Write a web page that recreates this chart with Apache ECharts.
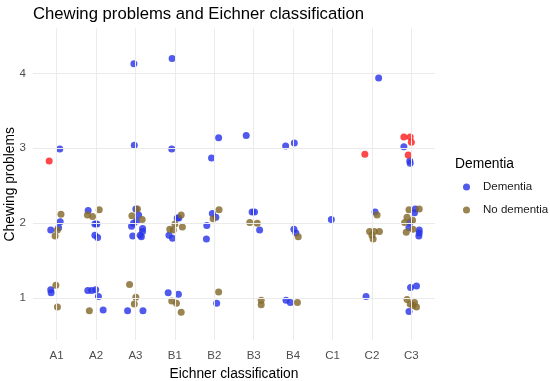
<!DOCTYPE html>
<html><head><meta charset="utf-8">
<script src="https://cdn.jsdelivr.net/npm/echarts@6/dist/echarts.min.js"></script>
<style>html,body{margin:0;padding:0;background:#fff}#c{width:550px;height:381px}</style>
</head><body><div id="c"></div>
<script>
const categories = ['A1','A2','A3','B1','B2','B3','B4','C1','C2','C3'];
const yTicks = [1,2,3,4];

// Dementia (blue): category, jitter offset, chewing problems value
const demCat = ['A1','A1','A1','A1','A1','A1',
  'A2','A2','A2','A2','A2','A2','A2','A2','A2','A2',
  'A3','A3','A3','A3','A3','A3','A3','A3','A3','A3','A3','A3','A3','A3',
  'B1','B1','B1','B1','B1','B1','B1','B1',
  'B2','B2','B2','B2','B2','B2','B2',
  'B3','B3','B3','B3',
  'B4','B4','B4','B4','B4','B4',
  'C1',
  'C2','C2','C2',
  'C3','C3','C3','C3','C3','C3','C3','C3','C3','C3','C3','C3','C3'];
const demDx = [0.08,0.09,-0.15,0.05,-0.15,-0.14,
  -0.2,-0.03,0.02,-0.03,0.04,-0.21,-0.11,-0.01,0.06,0.18,
  -0.04,-0.03,0.01,0.08,0.03,-0.05,-0.10,0.18,0.18,-0.07,0.12,0.15,-0.2,0.19,
  -0.07,-0.08,0.06,0.1,-0.15,-0.06,-0.17,0.09,
  0.11,-0.07,-0.05,0.04,-0.19,-0.2,0.06,
  -0.19,-0.04,0.02,0.15,
  -0.19,0.03,0.02,0.07,-0.18,-0.07,
  -0.03,
  0.17,0.08,-0.15,
  -0.19,-0.04,-0.03,0.1,0.08,-0.04,-0.06,0.2,0.2,0.19,-0.02,0.13,-0.06];
const demY = [2.99,2.02,1.91,1.94,1.11,1.07,
  2.17,1.99,1.99,1.84,1.81,1.10,1.10,1.11,1.02,0.84,
  4.13,3.04,2.19,2.11,2.03,2.0,1.96,1.93,1.89,1.83,1.84,1.82,0.83,0.83,
  4.2,2.99,2.07,2.07,1.84,1.80,1.07,1.05,
  3.14,2.87,2.13,2.08,1.97,1.79,0.93,
  3.17,2.15,2.15,1.91,
  3.03,3.07,1.92,1.87,0.97,0.94,
  2.05,
  3.94,2.15,1.02,
  3.02,2.83,2.8,2.19,2.14,2.01,1.94,1.91,1.87,1.83,1.14,1.16,0.82];

// No dementia (brown)
const noCat = ['A1','A1','A1','A1','A1',
  'A2','A2','A2','A2',
  'A3','A3','A3','A3','A3','A3',
  'B1','B1','B1','B1','B1','B1','B1','B1',
  'B2','B2','B2',
  'B3','B3','B3','B3',
  'B4','B4',
  'C2','C2','C2','C2','C2','C2',
  'C3','C3','C3','C3','C3','C3','C3','C3','C3','C3','C3','C3'];
const noDx = [0.11,0.02,-0.04,-0.02,0.02,
  0.08,-0.22,-0.09,-0.17,
  0.05,-0.09,0.17,-0.15,0.01,-0.03,
  0.16,0,0.19,-0.13,-0.04,-0.08,0.04,0.16,
  0.12,-0.03,0.11,
  -0.1,0.09,0.19,0.19,
  0.13,0.11,
  0.13,-0.06,0.06,0.19,0,0.03,
  -0.06,0.2,-0.11,0.03,-0.17,0.04,-0.13,-0.11,0.08,0.04,0.13,-0.03];
const noY = [2.12,1.91,1.83,1.17,0.88,
  2.18,2.11,2.09,0.83,
  2.19,2.1,2.05,1.18,1.01,0.92,
  2.11,1.99,1.95,1.92,1.91,0.96,0.93,0.81,
  2.18,2.06,1.08,
  2.01,2.0,0.97,0.91,
  1.82,0.94,
  2.11,1.89,1.89,1.89,1.84,1.79,
  2.18,2.19,2.08,2.04,2.01,1.92,1.88,0.98,0.94,0.9,0.88,0.92];

// Red points (not in legend)
const redCat = ['A1','C2','C3','C3','C3','C3'];
const redDx = [-0.19,-0.18,-0.19,-0.03,0,-0.08];
const redY = [2.83,2.92,3.15,3.15,3.08,2.91];

function pts(cat, dx, y){
  return cat.map((c,i)=>[categories.indexOf(c)+1+dx[i], y[i]]);
}
const chart = echarts.init(document.getElementById('c'));
const gridColor = '#ebebeb';
const vLines = categories.map((c,i)=>({xAxis:i+1}));
const hLines = yTicks.map(v=>({yAxis:v}));
chart.setOption({
  animation:false,
  title:[{text:'Chewing problems and Eichner classification',left:33,top:5.5,padding:0,
    textStyle:{fontFamily:'Liberation Sans',fontSize:16.7,fontWeight:'normal',color:'#000'}},
    {text:'Dementia',left:455,top:157,padding:0,textStyle:{fontFamily:'Liberation Sans',fontSize:13.8,fontWeight:'normal',color:'#000'}}],
  legend:{data:['Dementia','No dementia'],orient:'vertical',left:458,top:176,itemGap:11,
    icon:'circle',itemWidth:7,itemHeight:7,
    textStyle:{fontFamily:'Liberation Sans',fontSize:11.5,color:'#1a1a1a',padding:[0,0,0,8]}},
  grid:{left:33,right:115,top:28.5,bottom:41,containLabel:false,outerBoundsMode:'none'},
  xAxis:{type:'value',min:0.4,max:10.6,name:'Eichner classification',nameLocation:'middle',nameGap:27,
    nameTextStyle:{fontFamily:'Liberation Sans',fontSize:13.8,color:'#000'},
    axisLine:{show:false},axisTick:{show:false},splitLine:{show:false},
    axisLabel:{customValues:categories.map((c,i)=>i+1),formatter:v=>categories[Math.round(v)-1]||'',
      fontFamily:'Liberation Sans',fontSize:11.5,color:'#4d4d4d',margin:10}},
  yAxis:{type:'value',min:0.44,max:4.6,name:'Chewing problems',nameLocation:'middle',nameGap:16,
    nameMoveOverlap:false,
    nameTextStyle:{fontFamily:'Liberation Sans',fontSize:13.8,color:'#000'},
    axisLine:{show:false},axisTick:{show:false},splitLine:{show:false},
    axisLabel:{customValues:yTicks,formatter:v=>String(v),
      fontFamily:'Liberation Sans',fontSize:11.5,color:'#4d4d4d',margin:7}},
  series:[
    {type:'scatter',name:'grid',silent:true,data:[],
      markLine:{silent:true,symbol:'none',label:{show:false},animation:false,
        lineStyle:{color:gridColor,width:1,type:'solid'},data:vLines.concat(hLines)}},
    {type:'scatter',name:'Dementia',symbolSize:7,data:pts(demCat,demDx,demY),
      itemStyle:{color:'#2b36e8',opacity:0.82}},
    {type:'scatter',name:'No dementia',symbolSize:7,data:pts(noCat,noDx,noY),
      itemStyle:{color:'#846a2c',opacity:0.82}},
    {type:'scatter',name:'red',symbolSize:7,data:pts(redCat,redDx,redY),
      itemStyle:{color:'#ff2020',opacity:0.82}}
  ]
});
</script></body></html>
